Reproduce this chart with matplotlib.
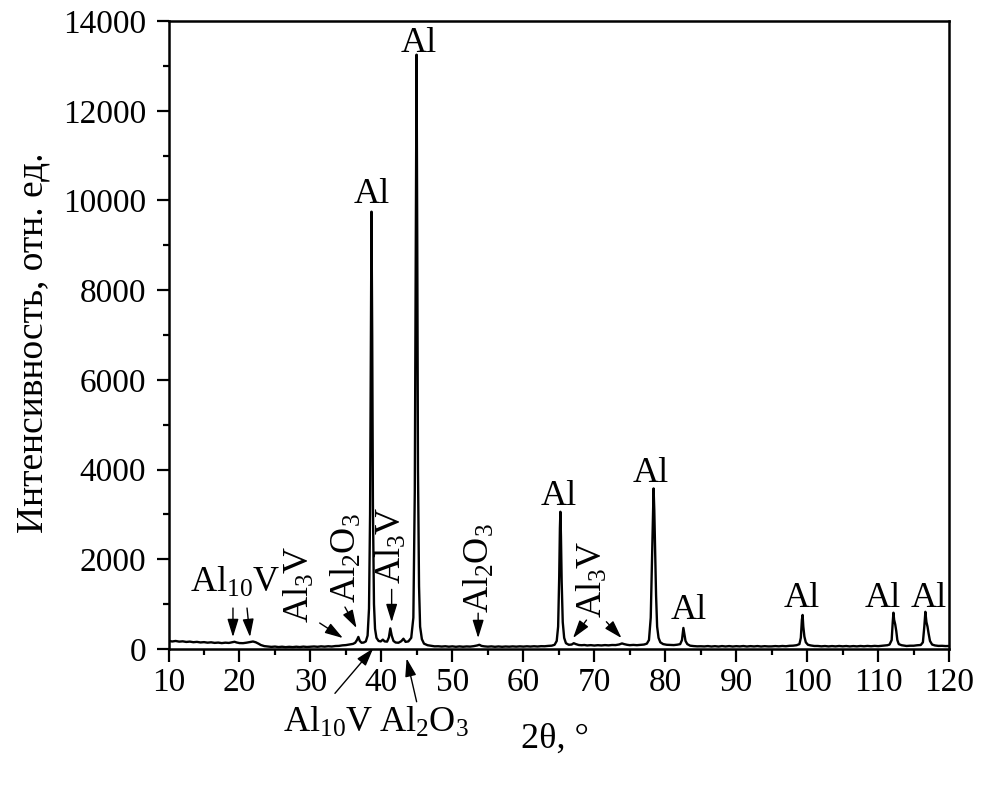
import matplotlib
matplotlib.use("Agg")
import matplotlib.pyplot as plt
from matplotlib.ticker import MultipleLocator

plt.rcParams['font.family'] = ['Liberation Serif', 'DejaVu Serif']
plt.rcParams['mathtext.fontset'] = 'custom'
plt.rcParams['mathtext.rm'] = 'Liberation Serif'
plt.rcParams['mathtext.it'] = 'Liberation Serif:italic'
plt.rcParams['mathtext.default'] = 'regular'

# ---- data ----
two_theta = [
    10.0, 10.5, 11.0, 11.5, 12.0, 12.5, 13.0, 13.5, 14.0, 14.5, 15.0, 15.5, 16.0, 16.5, 17.0, 17.5,
    18.0, 18.5, 19.0, 19.3, 19.6, 20.0, 20.5, 21.0, 21.5, 21.9, 22.3, 22.7, 23.0, 23.5, 24.0, 24.5,
    25.0, 25.5, 26.0, 26.5, 27.0, 27.5, 28.0, 28.5, 29.0, 29.5, 30.0, 30.5, 31.0, 31.5, 32.0, 32.5,
    33.0, 33.5, 34.0, 34.5, 35.0, 35.5, 36.0, 36.3, 36.55, 36.75, 36.95, 37.2, 37.5, 37.8, 38.05,
    38.25, 38.4, 38.5, 38.6, 38.7, 38.8, 38.95, 39.1, 39.3, 39.6, 39.9, 40.2, 40.45, 40.8, 41.05,
    41.25, 41.45, 41.7, 42.0, 42.4, 42.8, 43.1, 43.4, 43.8, 44.2, 44.5, 44.7, 44.85, 44.95, 45.05,
    45.15, 45.3, 45.45, 45.7, 46.0, 46.5, 47.0, 47.5, 48.0, 48.5, 49.0, 49.5, 50.0, 50.5, 51.0, 51.5,
    52.0, 52.5, 53.0, 53.5, 53.8, 54.1, 54.5, 55.0, 55.5, 56.0, 56.5, 57.0, 57.5, 58.0, 58.5, 59.0,
    59.5, 60.0, 60.5, 61.0, 61.5, 62.0, 62.5, 63.0, 63.5, 64.0, 64.4, 64.7, 64.9, 65.05, 65.15,
    65.22, 65.3, 65.4, 65.55, 65.75, 66.0, 66.4, 66.8, 67.1, 67.4, 67.8, 68.2, 68.6, 69.0, 69.5,
    70.0, 70.5, 71.0, 71.5, 72.0, 72.5, 73.0, 73.5, 73.9, 74.2, 74.6, 75.0, 75.5, 76.0, 76.5, 77.0,
    77.4, 77.7, 77.95, 78.1, 78.25, 78.35, 78.45, 78.55, 78.7, 78.85, 79.05, 79.3, 79.7, 80.2, 80.7,
    81.2, 81.7, 82.1, 82.35, 82.55, 82.7, 82.85, 83.1, 83.5, 84.0, 84.5, 85.0, 85.5, 86.0, 86.5,
    87.0, 87.5, 88.0, 88.5, 89.0, 89.5, 90.0, 90.5, 91.0, 91.5, 92.0, 92.5, 93.0, 93.5, 94.0, 94.5,
    95.0, 95.5, 96.0, 96.5, 97.0, 97.5, 98.0, 98.5, 98.9, 99.1, 99.25, 99.35, 99.45, 99.6, 99.8,
    100.1, 100.5, 101.0, 101.5, 102.0, 102.5, 103.0, 103.5, 104.0, 104.5, 105.0, 105.5, 106.0,
    106.5, 107.0, 107.5, 108.0, 108.5, 109.0, 109.5, 110.0, 110.5, 111.0, 111.3, 111.6, 111.9,
    112.05, 112.15, 112.25, 112.4, 112.55, 112.7, 112.9, 113.3, 113.7, 114.0, 114.5, 115.0, 115.5,
    116.0, 116.3, 116.5, 116.65, 116.8, 116.95, 117.1, 117.3, 117.6, 118.0, 118.5, 119.0, 119.5, 120.0,
]
intensity = [
    185, 168, 180, 165, 172, 158, 166, 152, 160, 147, 154, 142, 150, 137, 144, 132,
    142, 136, 152, 162, 146, 133, 131, 142, 157, 168, 150, 118, 90, 65, 57, 48,
    55, 44, 52, 42, 50, 43, 52, 44, 54, 46, 52, 57, 50, 60, 53, 62,
    56, 67, 70, 82, 88, 102, 115, 140, 200, 270, 180, 140, 145, 170, 300,
    900, 3000, 6500, 9750, 7000, 3200, 1000, 450, 250, 180, 170, 210, 170, 165, 260,
    460, 300, 180, 145, 140, 175, 230, 160, 170, 250, 700, 3500, 9500, 13250, 9000,
    4000, 1400, 500, 220, 120, 85, 72, 60, 62, 55, 62, 52, 60, 50, 59, 51,
    58, 54, 64, 80, 95, 70, 60, 53, 59, 50, 58, 50, 57, 52, 59, 53,
    60, 54, 61, 55, 62, 56, 64, 62, 70, 75, 95, 180, 500, 1600, 2700,
    3060, 2500, 1500, 600, 250, 130, 95, 100, 130, 110, 90, 85, 90, 80, 87,
    78, 86, 80, 88, 82, 90, 88, 102, 125, 110, 95, 86, 92, 86, 94, 100,
    120, 200, 700, 1800, 3000, 3580, 3100, 2300, 1200, 500, 250, 150, 110, 95, 92,
    88, 97, 110, 200, 470, 320, 180, 110, 75, 66, 60, 62, 58, 66, 56,
    64, 55, 66, 57, 66, 56, 64, 58, 67, 56, 65, 58, 66, 56, 64, 58,
    59, 66, 60, 68, 62, 72, 75, 85, 110, 250, 650, 760, 500, 280, 150,
    95, 80, 68, 68, 60, 67, 58, 66, 59, 68, 60, 67, 58,
    66, 59, 68, 61, 69, 62, 70, 64, 72, 78, 85, 100, 200,
    600, 810, 650, 550, 400, 200, 110, 85, 75, 68, 74, 74, 84,
    90, 150, 500, 830, 600, 500, 350, 180, 100, 80, 70, 72, 66, 68,
]

al_peaks_x = [38.6, 45.3, 65.0, 77.95, 83.3, 99.3, 110.6, 117.1]
al_labels_y = [9950, 13300, 3210, 3730, 660, 940, 940, 940]

x_ticks = [10, 20, 30, 40, 50, 60, 70, 80, 90, 100, 110, 120]
y_ticks = [0, 2000, 4000, 6000, 8000, 10000, 12000, 14000]

fig = plt.figure(figsize=(9.85, 7.85), dpi=100)
ax = fig.add_axes([0.1711, 0.1732, 0.7925, 0.8000])
ax.plot(two_theta, intensity, color='black', lw=1.7)

ax.set_xlim(10, 120)
ax.set_ylim(0, 14000)
ax.set_xticks(x_ticks)
ax.set_yticks(y_ticks)
ax.xaxis.set_minor_locator(MultipleLocator(5))
ax.yaxis.set_minor_locator(MultipleLocator(1000))
for s in ax.spines.values():
    s.set_linewidth(1.8)
ax.tick_params(which='major', direction='out', length=9, width=1.6, labelsize=24)
ax.tick_params(which='minor', direction='out', length=4.5, width=1.6)
ax.tick_params(axis='y', which='major', pad=7)
ax.tick_params(axis='x', which='major', pad=4)

fs = 26
for xp, yp in zip(al_peaks_x, al_labels_y):
    ax.text(xp, yp, 'Al', fontsize=fs, ha='center', va='baseline')

arrow = dict(arrowstyle='-|>,head_length=0.55,head_width=0.17', color='black',
             lw=1.0, mutation_scale=20, shrinkA=0, shrinkB=0)

# Al10V near 19-22
ax.text(19.4, 1270, 'Al$_{10}$V', fontsize=fs, ha='center', va='baseline')
ax.annotate('', xy=(19.08, 267), xytext=(19.08, 914), arrowprops=arrow)
ax.annotate('', xy=(21.48, 267), xytext=(21.06, 914), arrowprops=arrow)

# rotated labels
ax.text(28.5, 1450, 'Al$_3$V', fontsize=fs, rotation=90, ha='center', va='center')
ax.annotate('', xy=(34.57, 245), xytext=(31.3, 580), arrowprops=arrow)

ax.text(35.07, 2030, 'Al$_2$O$_3$', fontsize=fs, rotation=90, ha='center', va='center')
ax.annotate('', xy=(36.5, 468), xytext=(34.86, 936), arrowprops=arrow)

ax.text(41.44, 2318, 'Al$_3$V', fontsize=fs, rotation=90, ha='center', va='center')
ax.annotate('', xy=(41.44, 600), xytext=(41.44, 1330), arrowprops=arrow)

ax.text(53.87, 1800, 'Al$_2$O$_3$', fontsize=fs, rotation=90, ha='center', va='center')
ax.annotate('', xy=(53.63, 245), xytext=(53.63, 800), arrowprops=arrow)

ax.text(69.8, 1560, 'Al$_3$V', fontsize=fs, rotation=90, ha='center', va='center')
ax.annotate('', xy=(67.0, 245), xytext=(68.9, 646), arrowprops=arrow)
ax.annotate('', xy=(73.83, 245), xytext=(71.7, 608), arrowprops=arrow)

# labels below the axis
ax.text(32.5, -1843, 'Al$_{10}$V', fontsize=fs, ha='center', va='baseline')
ax.annotate('', xy=(38.85, 15), xytext=(33.45, -988), arrowprops=arrow,
            annotation_clip=False)
ax.text(45.99, -1843, 'Al$_2$O$_3$', fontsize=fs, ha='center', va='baseline')
ax.annotate('', xy=(43.55, -208), xytext=(44.96, -1175), arrowprops=arrow,
            annotation_clip=False)

fig.text(555 / 985, 1 - 748 / 785, '2θ, °', fontsize=fs, ha='center', va='baseline')
fig.text(33 / 985, 1 - 343 / 785, 'Интенсивность, отн. ед.', fontsize=27,
         rotation=90, ha='center', va='center')

fig.savefig('out.png', dpi=100)
